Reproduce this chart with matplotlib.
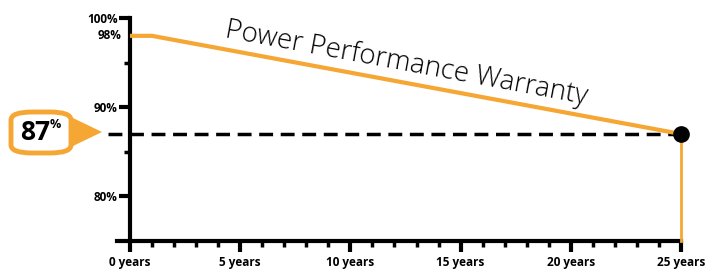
import numpy as np
import matplotlib.pyplot as plt
from matplotlib.patches import FancyBboxPatch, Polygon

# warranty curve
years = [0, 1, 25]
output_pct = [98, 98, 87]
end_year = 25
end_pct = 87
x_ticks = [0, 5, 10, 15, 20, 25]
x_labels = ["0 years", "5 years", "10 years", "15 years", "20 years", "25 years"]
y_ticks = [80, 90, 100]
y_labels = ["80%", "90%", "100%"]

orange = "#F5A633"
plt.rcParams['font.family'] = ['Open Sans', 'DejaVu Sans']

fig = plt.figure(figsize=(7.05, 2.69), dpi=100)
W, H = 705, 269
ax = fig.add_axes([130 / W, 28 / H, (681 - 130) / W, (241 - 18) / H])
ax.set_xlim(0, 25)
ax.set_ylim(75, 100)

ax.plot(years, output_pct, color=orange, lw=3, solid_capstyle='butt', zorder=3)
ax.plot([end_year, end_year], [75, end_pct], color=orange, lw=2, clip_on=False, zorder=3)
ax.plot([-1, end_year], [end_pct, end_pct], color='black', lw=2.5,
        dashes=(4, 2.2), clip_on=False, zorder=2)
ax.plot(end_year, end_pct, 'o', color='black', ms=11, clip_on=False, zorder=4)

for s in ['top', 'right']:
    ax.spines[s].set_visible(False)
for s in ['left', 'bottom']:
    ax.spines[s].set_linewidth(3)
ax.spines['bottom'].set_bounds(-0.6, 25)

ax.set_xticks(x_ticks)
ax.set_xticklabels(x_labels, fontsize=8.5, fontweight='bold')
ax.set_xticks(np.arange(0, 26, 1), minor=True)
ax.set_yticks(y_ticks)
ax.set_yticklabels(y_labels, fontsize=8.5, fontweight='bold')
ax.set_yticks([85, 95], minor=True)
ax.tick_params(axis='both', which='major', length=8, width=3, pad=1)
ax.tick_params(axis='both', which='minor', length=4, width=2.5)
ax.tick_params(axis='x', which='major', pad=3)
ax.text(-0.4, 98, "98%", fontsize=8.5, fontweight='bold', ha='right', va='center')

ax.text(4.3, 97.9, "Power Performance Warranty", fontsize=20, color='black',
        fontweight='light', rotation=-10.5, rotation_mode='anchor',
        ha='left', va='baseline')

# callout box
box = FancyBboxPatch((11 / W, (269 - 153) / H), 60 / W, 41 / H,
                     boxstyle="round,pad=0,rounding_size=0.03",
                     transform=fig.transFigure, facecolor='white',
                     edgecolor=orange, lw=3.5, zorder=5)
fig.patches.append(box)
tri = Polygon([(73 / W, (269 - 118) / H), (73 / W, (269 - 146) / H),
               (102 / W, (269 - 132) / H)], closed=True,
              transform=fig.transFigure, facecolor=orange, edgecolor='none')
fig.patches.append(tri)
fig.text(35 / W, (269 - 133) / H, "87", fontsize=19, fontweight='bold',
         ha='center', va='center', zorder=10)
fig.text(50 / W, (269 - 124) / H, "%", fontsize=9, fontweight='bold',
         ha='left', va='center', zorder=10)

fig.savefig("out.png", dpi=100)
